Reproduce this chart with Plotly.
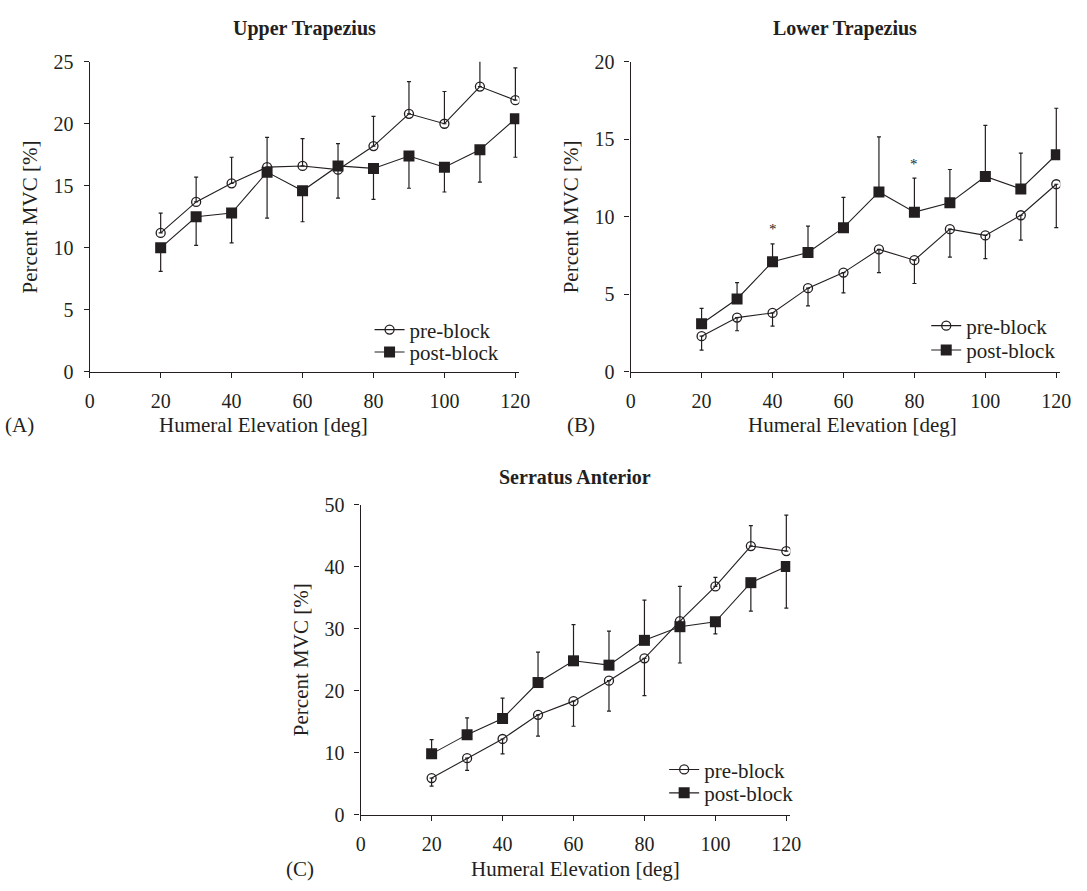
import plotly.graph_objects as go

# ---------------- data ----------------
angles = [20, 30, 40, 50, 60, 70, 80, 90, 100, 110, 120]

# Upper Trapezius
ut_pre = [11.2, 13.7, 15.2, 16.5, 16.6, 16.3, 18.2, 20.8, 20.0, 23.0, 21.9]
ut_pre_sd = [1.6, 2.0, 2.1, 2.4, 2.2, 2.1, 2.4, 2.6, 2.6, 2.6, 2.6]
ut_pre_dir = [1, 1, 1, 1, 1, 1, 1, 1, 1, 1, 1]
ut_post = [10.0, 12.5, 12.8, 16.1, 14.6, 16.6, 16.4, 17.4, 16.5, 17.9, 20.4]
ut_post_sd = [1.9, 2.3, 2.4, 3.7, 2.5, 2.6, 2.5, 2.6, 2.0, 2.6, 3.1]
ut_post_dir = [-1, -1, -1, -1, -1, -1, -1, -1, -1, -1, -1]

# Lower Trapezius
lt_pre = [2.3, 3.5, 3.8, 5.4, 6.4, 7.9, 7.2, 9.2, 8.8, 10.1, 12.1]
lt_pre_sd = [0.9, 0.85, 0.85, 1.15, 1.3, 1.5, 1.5, 1.8, 1.5, 1.6, 2.8]
lt_pre_dir = [-1, -1, -1, -1, -1, -1, -1, -1, -1, -1, -1]
lt_post = [3.1, 4.7, 7.1, 7.7, 9.3, 11.6, 10.3, 10.9, 12.6, 11.8, 14.0]
lt_post_sd = [1.0, 1.05, 1.15, 1.7, 1.95, 3.55, 2.2, 2.15, 3.3, 2.3, 3.0]
lt_post_dir = [1, 1, 1, 1, 1, 1, 1, 1, 1, 1, 1]
lt_sig_x = [40, 80]
lt_sig_y = [9.4, 13.6]

# Serratus Anterior
sa_pre = [5.9, 9.1, 12.2, 16.1, 18.3, 21.6, 25.2, 31.2, 36.8, 43.3, 42.5]
sa_pre_sd = [1.3, 1.95, 2.4, 3.45, 4.05, 4.9, 6.0, 5.6, 1.45, 3.3, 5.8]
sa_pre_dir = [-1, -1, -1, -1, -1, -1, -1, 1, 1, 1, 1]
sa_post = [9.8, 12.9, 15.5, 21.3, 24.8, 24.1, 28.1, 30.3, 31.1, 37.4, 40.0]
sa_post_sd = [2.3, 2.7, 3.3, 4.9, 5.85, 5.5, 6.5, 5.85, 1.95, 4.6, 6.7]
sa_post_dir = [1, 1, 1, 1, 1, 1, 1, -1, -1, -1, -1]

x_ticks = [0, 20, 40, 60, 80, 100, 120]
titles = ["Upper Trapezius", "Lower Trapezius", "Serratus Anterior"]
panel_tags = ["(A)", "(B)", "(C)"]
series_names = ["pre-block", "post-block"]
x_title = "Humeral Elevation [deg]"
y_title = "Percent MVC [%]"
y_max = [25, 20, 50]
y_dtick = [5, 5, 10]

# ---------------- styling ----------------
W, H = 1087, 891
FONT = "Liberation Serif, Times New Roman, serif"
INK = "#231f20"
FS_TICK = 20
FS_LAB = 21
FS_TITLE = 20


def px(x):
    return x / W


def py(y):
    return 1 - y / H


# plot boxes in pixels: (left, right, top, bottom)
boxes = [(86, 522, 52, 370), (635, 1071, 52, 370), (361, 797, 506, 824)]
X_SPAN = 432.0  # pixels from 0 to 120 on the x axes
title_y = [18, 18, 478]
xlab_pos = [(262, 424), (860, 424), (579, 880)]
tag_pos = [(15, 424), (585, 424), (299, 880)]
# legend: text start x, centre y of pre-block row, centre y of post-block row
legend_rows = [(410, 327, 350), (975, 323, 348), (709, 778, 802)]


def errs(sd, d):
    plus = [s if k > 0 else 0 for s, k in zip(sd, d)]
    minus = [s if k < 0 else 0 for s, k in zip(sd, d)]
    return plus, minus


fig = go.Figure()

panels = [
    (ut_pre, ut_pre_sd, ut_pre_dir, ut_post, ut_post_sd, ut_post_dir),
    (lt_pre, lt_pre_sd, lt_pre_dir, lt_post, lt_post_sd, lt_post_dir),
    (sa_pre, sa_pre_sd, sa_pre_dir, sa_post, sa_post_sd, sa_post_dir),
]

layout = dict(
    width=W, height=H, margin=dict(l=0, r=0, t=0, b=0),
    paper_bgcolor="white", plot_bgcolor="white",
    font=dict(family=FONT, color=INK),
    showlegend=True,
)

for i, (pre, pre_sd, pre_d, post, post_sd, post_d) in enumerate(panels):
    xa = "x" if i == 0 else f"x{i+1}"
    ya = "y" if i == 0 else f"y{i+1}"
    lg_pre = "legend" if i == 0 else f"legend{2*i+1}"
    lg_post = f"legend{2*i+2}"
    p_plus, p_minus = errs(pre_sd, pre_d)
    q_plus, q_minus = errs(post_sd, post_d)
    fig.add_trace(go.Scatter(
        x=angles, y=pre, name=series_names[0], xaxis=xa, yaxis=ya, legend=lg_pre,
        mode="lines+markers",
        line=dict(color=INK, width=1.1),
        marker=dict(symbol="circle-open", size=9, color=INK, line=dict(width=1.3, color=INK)),
        error_y=dict(type="data", symmetric=False, array=p_plus, arrayminus=p_minus,
                     color=INK, thickness=1.2, width=2),
    ))
    fig.add_trace(go.Scatter(
        x=angles, y=post, name=series_names[1], xaxis=xa, yaxis=ya, legend=lg_post,
        mode="lines+markers",
        line=dict(color=INK, width=1.1),
        marker=dict(symbol="square", size=11, color=INK),
        error_y=dict(type="data", symmetric=False, array=q_plus, arrayminus=q_minus,
                     color=INK, thickness=1.2, width=2),
    ))
    tx, y_pre, y_post = legend_rows[i]
    for name, yy in ((lg_pre, y_pre), (lg_post, y_post)):
        layout[name] = dict(
            x=px(tx - 40), y=py(yy), xanchor="left", yanchor="middle",
            font=dict(family=FONT, size=FS_LAB, color=INK), bgcolor="rgba(0,0,0,0)",
            tracegroupgap=0, itemwidth=30, borderwidth=0,
        )

axis_common = dict(
    showline=True, linecolor=INK, linewidth=1.4, mirror=False,
    ticks="outside", ticklen=5, tickwidth=1.3, tickcolor=INK,
    showgrid=False, zeroline=False,
    tickfont=dict(family=FONT, size=FS_TICK, color=INK),
)

annotations = []
for i, (l, r, t, b) in enumerate(boxes):
    sfx = "" if i == 0 else str(i + 1)
    x_hi = 120 * (r - l) / X_SPAN
    layout["xaxis" + sfx] = dict(axis_common, domain=[px(l), px(r)], range=[0, x_hi],
                                 tickvals=x_ticks, anchor="y" + sfx, ticklabelstandoff=6)
    layout["yaxis" + sfx] = dict(axis_common, domain=[py(b), py(t)], range=[0, y_max[i]],
                                 dtick=y_dtick[i], anchor="x" + sfx, ticklabelstandoff=6)
    cx = (l + r) / 2
    annotations.append(dict(text="<b>" + titles[i] + "</b>", x=px(cx), y=py(title_y[i]),
                            xref="paper", yref="paper", showarrow=False,
                            font=dict(family=FONT, size=FS_TITLE, color=INK),
                            xanchor="center", yanchor="middle"))
    xl, yl = xlab_pos[i]
    annotations.append(dict(text=x_title, x=px(xl), y=py(yl),
                            xref="paper", yref="paper", showarrow=False,
                            font=dict(family=FONT, size=FS_LAB, color=INK),
                            xanchor="center", yanchor="middle"))
    annotations.append(dict(text=y_title, x=px(l - 61), y=py((t + b) / 2),
                            xref="paper", yref="paper", showarrow=False, textangle=-90,
                            font=dict(family=FONT, size=FS_LAB, color=INK),
                            xanchor="center", yanchor="middle"))

for tag, (tx, ty) in zip(panel_tags, tag_pos):
    annotations.append(dict(text=tag, x=px(tx), y=py(ty), xref="paper", yref="paper",
                            showarrow=False, font=dict(family=FONT, size=FS_LAB, color=INK),
                            xanchor="center", yanchor="middle"))

for sx, sy in zip(lt_sig_x, lt_sig_y):
    annotations.append(dict(text="*", x=sx, y=sy, xref="x2", yref="y2", showarrow=False,
                            font=dict(family=FONT, size=15, color=INK),
                            xanchor="center", yanchor="middle", yshift=-3))

layout["annotations"] = annotations
fig.update_layout(**layout)

fig.write_html("out.html")
